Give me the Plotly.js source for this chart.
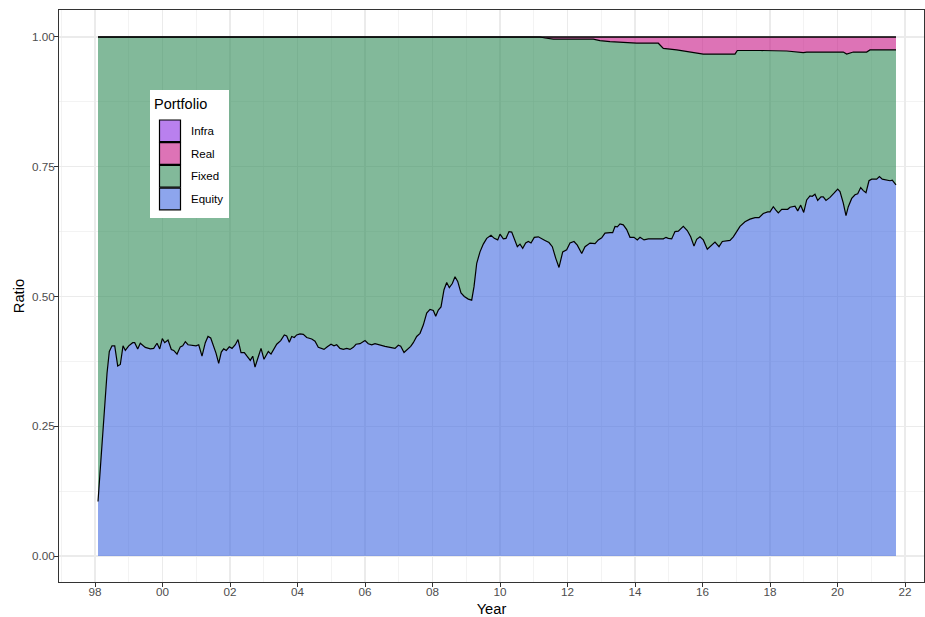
<!DOCTYPE html>
<html>
<head>
<meta charset="utf-8">
<script src="https://cdn.plot.ly/plotly-3.0.1.min.js"></script>
<style>html,body{margin:0;padding:0;background:#fff;}#chart{width:925px;height:617px;}</style>
</head>
<body>
<div id="chart"></div>
<script>
// ---- data (decimal years) ----
var equityYears = [1998.089,1998.258,1998.356,1998.424,1998.504,1998.584,1998.673,1998.750,1998.830,1998.898,1998.999,1999.117,1999.176,1999.265,1999.342,1999.490,1999.639,1999.739,1999.837,1999.917,1999.994,2000.065,2000.163,2000.261,2000.332,2000.430,2000.527,2000.599,2000.676,2000.756,2000.874,2000.993,2001.073,2001.170,2001.268,2001.348,2001.428,2001.517,2001.585,2001.665,2001.742,2001.813,2001.890,2001.979,2002.059,2002.157,2002.237,2002.326,2002.424,2002.504,2002.601,2002.673,2002.741,2002.839,2002.919,2003.007,2003.135,2003.215,2003.304,2003.384,2003.502,2003.609,2003.680,2003.757,2003.828,2003.905,2003.976,2004.074,2004.172,2004.273,2004.421,2004.519,2004.616,2004.717,2004.785,2004.883,2004.993,2005.081,2005.161,2005.259,2005.357,2005.458,2005.556,2005.653,2005.733,2005.852,2006.000,2006.098,2006.199,2006.296,2006.444,2006.593,2006.741,2006.889,2006.987,2007.058,2007.156,2007.253,2007.354,2007.431,2007.531,2007.630,2007.727,2007.828,2007.926,2008.024,2008.095,2008.172,2008.252,2008.341,2008.421,2008.498,2008.587,2008.667,2008.747,2008.844,2008.942,2009.061,2009.161,2009.230,2009.310,2009.407,2009.505,2009.606,2009.733,2009.831,2009.932,2010.000,2010.098,2010.178,2010.267,2010.347,2010.424,2010.513,2010.593,2010.673,2010.761,2010.839,2010.919,2011.016,2011.135,2011.236,2011.333,2011.452,2011.550,2011.650,2011.748,2011.858,2011.976,2012.074,2012.193,2012.290,2012.421,2012.519,2012.667,2012.815,2012.913,2013.013,2013.111,2013.259,2013.339,2013.407,2013.476,2013.556,2013.653,2013.754,2013.852,2013.970,2014.068,2014.148,2014.267,2014.394,2014.524,2014.643,2014.741,2014.839,2014.919,2014.987,2015.087,2015.185,2015.283,2015.431,2015.549,2015.650,2015.748,2015.828,2015.926,2016.024,2016.142,2016.243,2016.370,2016.489,2016.587,2016.815,2016.913,2017.013,2017.111,2017.259,2017.407,2017.556,2017.674,2017.801,2017.932,2018.000,2018.098,2018.169,2018.246,2018.347,2018.444,2018.524,2018.593,2018.741,2018.821,2018.910,2018.999,2019.087,2019.185,2019.253,2019.333,2019.413,2019.511,2019.579,2019.659,2019.778,2019.896,2020.006,2020.074,2020.172,2020.252,2020.320,2020.421,2020.519,2020.599,2020.687,2020.765,2020.844,2020.933,2021.013,2021.161,2021.242,2021.327,2021.457,2021.556,2021.624,2021.733];
var equity = [0.105,0.275,0.352,0.394,0.405,0.405,0.366,0.369,0.405,0.396,0.405,0.411,0.411,0.399,0.410,0.402,0.399,0.400,0.410,0.399,0.419,0.411,0.416,0.398,0.396,0.389,0.403,0.405,0.413,0.407,0.406,0.405,0.407,0.385,0.411,0.423,0.420,0.403,0.391,0.371,0.393,0.399,0.396,0.403,0.400,0.407,0.417,0.392,0.392,0.385,0.377,0.385,0.364,0.384,0.400,0.379,0.394,0.389,0.400,0.408,0.415,0.426,0.424,0.412,0.423,0.421,0.426,0.428,0.427,0.421,0.418,0.414,0.402,0.400,0.398,0.403,0.408,0.405,0.407,0.400,0.398,0.400,0.398,0.402,0.408,0.409,0.415,0.409,0.407,0.409,0.406,0.404,0.402,0.400,0.406,0.404,0.392,0.398,0.404,0.411,0.423,0.429,0.445,0.468,0.475,0.473,0.462,0.474,0.480,0.513,0.527,0.517,0.525,0.538,0.529,0.507,0.500,0.495,0.493,0.519,0.564,0.586,0.601,0.612,0.618,0.612,0.609,0.620,0.611,0.612,0.625,0.624,0.609,0.596,0.601,0.593,0.603,0.606,0.603,0.614,0.615,0.612,0.608,0.604,0.596,0.574,0.556,0.586,0.590,0.603,0.606,0.599,0.583,0.596,0.603,0.602,0.609,0.613,0.622,0.623,0.623,0.635,0.634,0.640,0.638,0.629,0.614,0.614,0.609,0.614,0.609,0.611,0.611,0.612,0.611,0.611,0.614,0.612,0.611,0.625,0.626,0.635,0.627,0.615,0.597,0.610,0.615,0.609,0.591,0.597,0.605,0.596,0.606,0.608,0.615,0.625,0.635,0.644,0.649,0.652,0.652,0.660,0.663,0.663,0.673,0.667,0.661,0.668,0.668,0.668,0.672,0.674,0.665,0.676,0.662,0.686,0.694,0.693,0.697,0.685,0.692,0.692,0.685,0.691,0.699,0.707,0.702,0.680,0.656,0.673,0.689,0.696,0.698,0.710,0.704,0.700,0.723,0.726,0.726,0.731,0.726,0.724,0.723,0.724,0.715];

var realYears = [1998.089,2011.185,2011.333,2011.580,2012.764,2012.963,2013.259,2014.050,2014.690,2014.839,2015.235,2015.727,2016.024,2016.963,2017.031,2017.704,2018.495,2018.987,2019.087,2020.172,2020.272,2020.469,2020.864,2020.963,2021.733];
var real = [0,0,0.002,0.004,0.004,0.007,0.009,0.012,0.012,0.022,0.025,0.030,0.033,0.033,0.026,0.026,0.027,0.030,0.029,0.029,0.033,0.029,0.029,0.025,0.025];

var infraYears = [1998.089,2021.733];
var infra = [0,0];

var tickYears = [1998,2000,2002,2004,2006,2008,2010,2012,2014,2016,2018,2020,2022];
var tickLabels = ['98','00','02','04','06','08','10','12','14','16','18','20','22'];
var yTicks = [0,0.25,0.5,0.75,1];
var yLabels = ['0.00','0.25','0.50','0.75','1.00'];

var seriesNames = ['Infra','Real','Fixed','Equity'];
var seriesColors = {Infra:'rgba(138,43,226,0.6)', Real:'rgba(199,21,133,0.6)', Fixed:'rgba(46,139,87,0.6)', Equity:'rgba(65,105,225,0.6)'};

// ---- cumulative tops ----
function interp(xs, ys, x){
  if (x <= xs[0]) return ys[0];
  for (var i=1;i<xs.length;i++){ if (x<=xs[i]){ var t=(x-xs[i-1])/(xs[i]-xs[i-1]); return ys[i-1]+t*(ys[i]-ys[i-1]); } }
  return ys[ys.length-1];
}
var fixedTop = realYears.map(function(x,i){ return 1 - real[i] - interp(infraYears, infra, x); });
var realTop = infraYears.map(function(x,i){ return 1 - infra[i]; });
var infraTop = infraYears.map(function(){ return 1; });

var lineStyle = {color:'#000000', width:1.2};
var traces = [
  {x:equityYears, y:equity, type:'scatter', mode:'lines', name:'Equity', fill:'tozeroy', fillcolor:seriesColors.Equity, line:lineStyle, showlegend:false, hoverinfo:'skip'},
  {x:realYears, y:fixedTop, type:'scatter', mode:'lines', name:'Fixed', fill:'tonexty', fillcolor:seriesColors.Fixed, line:lineStyle, showlegend:false, hoverinfo:'skip'},
  {x:infraYears, y:realTop, type:'scatter', mode:'lines', name:'Real', fill:'tonexty', fillcolor:seriesColors.Real, line:lineStyle, showlegend:false, hoverinfo:'skip'},
  {x:infraYears, y:infraTop, type:'scatter', mode:'lines', name:'Infra', fill:'tonexty', fillcolor:seriesColors.Infra, line:lineStyle, showlegend:false, hoverinfo:'skip'}
];

// ---- manual ggplot-style legend (pixel -> paper) ----
var L = 59, R = 924, T = 10, B = 582;
function px(x){ return (x - L) / (R - L); }
function py(y){ return (B - y) / (B - T); }
var shapes = [{type:'rect', xref:'paper', yref:'paper', x0:px(150), x1:px(229), y0:py(218), y1:py(90), fillcolor:'#ffffff', line:{width:0}, layer:'above'}];
var annotations = [{xref:'paper', yref:'paper', x:px(152), y:py(104), xanchor:'left', yanchor:'middle', showarrow:false, text:'Portfolio', font:{family:'Liberation Sans, Arial, sans-serif', size:14.5, color:'#000000'}}];
var keyTop = 119.5, keyH = 22.7;
seriesNames.forEach(function(n, i){
  var y0 = keyTop + i*keyH;
  shapes.push({type:'rect', xref:'paper', yref:'paper', x0:px(159.5), x1:px(180.5), y0:py(y0+keyH-0.5), y1:py(y0+0.5), fillcolor:seriesColors[n], line:{color:'#000000', width:1.2}, layer:'above'});
  annotations.push({xref:'paper', yref:'paper', x:px(188.5), y:py(y0+keyH/2), xanchor:'left', yanchor:'middle', showarrow:false, text:n, font:{family:'Liberation Sans, Arial, sans-serif', size:11.5, color:'#000000'}});
});

var layout = {
  width:925, height:617,
  margin:{l:L, r:925-R, t:T, b:617-B, pad:0},
  paper_bgcolor:'#ffffff', plot_bgcolor:'#ffffff',
  font:{family:'Liberation Sans, Arial, sans-serif', color:'#4d4d4d', size:11.7},
  showlegend:false,
  hovermode:false,
  xaxis:{
    range:[1996.933, 2022.563], autorange:false,
    tickmode:'array', tickvals:tickYears, ticktext:tickLabels,
    ticks:'outside', ticklen:4, tickwidth:1, tickcolor:'#333333',
    ticklabelstandoff:-5,
    tickfont:{size:11.7, color:'#4d4d4d'},
    showgrid:true, gridcolor:'#ebebeb', gridwidth:1.1,
    minor:{tickmode:'linear', tick0:1997, dtick:2, showgrid:true, gridcolor:'#ebebeb', gridwidth:0.6, ticks:''},
    showline:true, mirror:true, linecolor:'#333333', linewidth:1,
    zeroline:false,
    title:{text:'Year', font:{size:14.7, color:'#000000'}, standoff:8}
  },
  yaxis:{
    range:[-0.0501, 1.052], autorange:false,
    tickmode:'array', tickvals:yTicks, ticktext:yLabels,
    ticks:'outside', ticklen:4, tickwidth:1, tickcolor:'#333333',
    ticklabelstandoff:-3,
    tickfont:{size:11.7, color:'#4d4d4d'},
    showgrid:true, gridcolor:'#ebebeb', gridwidth:1.1,
    minor:{tickmode:'linear', tick0:0.125, dtick:0.25, showgrid:true, gridcolor:'#ebebeb', gridwidth:0.6, ticks:''},
    showline:true, mirror:true, linecolor:'#333333', linewidth:1,
    zeroline:false,
    title:{text:'Ratio', font:{size:14.7, color:'#000000'}, standoff:3}
  },
  shapes:shapes,
  annotations:annotations
};

Plotly.newPlot('chart', traces, layout, {staticPlot:true, displayModeBar:false});
</script>
</body>
</html>
